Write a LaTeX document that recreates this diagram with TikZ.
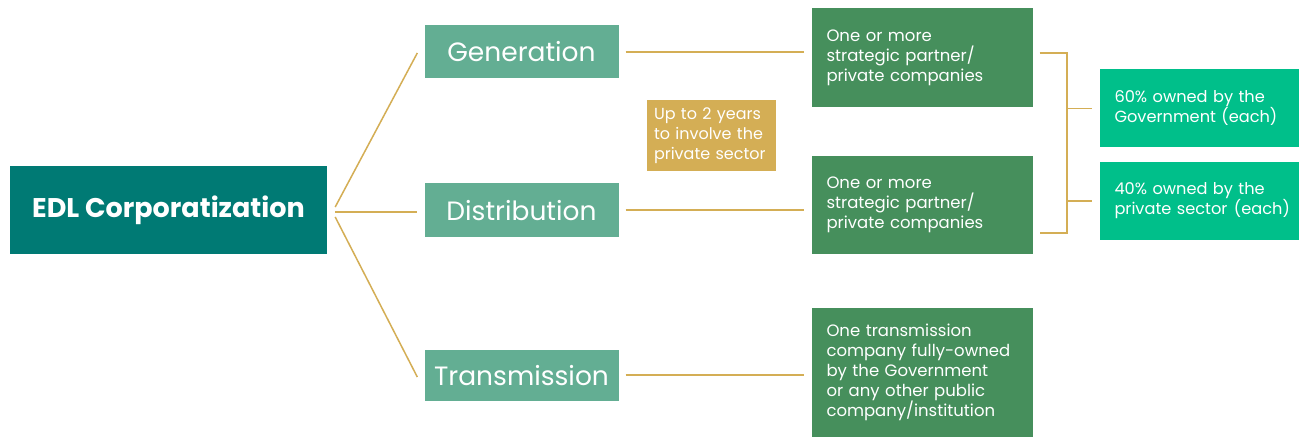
\documentclass[tikz,border=0pt]{standalone}
\usepackage{fontspec}
\setmainfont{Poppins}
\definecolor{edlteal}{HTML}{007A74}
\definecolor{segment}{HTML}{63AE93}
\definecolor{partner}{HTML}{468F5C}
\definecolor{share}{HTML}{00BF8A}
\definecolor{gold}{HTML}{D4AE55}

\begin{document}
\begin{tikzpicture}
  [x=1pt,y=-1pt,
   every node/.style={text=white,inner sep=0pt},
   box/.style={rectangle,fill=#1,align=center},
   txtbox/.style={rectangle,fill=#1,align=left,inner xsep=15pt,font=\fontsize{16.5}{20}\selectfont},
   link/.style={gold,line width=1.5pt}]
  \fill[white] (0,0) rectangle (1302,438);
  \useasboundingbox (0,0) rectangle (1302,438);

  \node[box=edlteal,minimum width=317pt,minimum height=88pt,font=\fontsize{27}{30}\selectfont\bfseries] (edl) at (168.5,210.5) {EDL Corporatization};

  \node[box=segment,minimum width=194pt,minimum height=53pt,font=\fontsize{26.5}{30}\selectfont] (gen) at (521.5,52) {Generation};
  \node[box=segment,minimum width=194pt,minimum height=54pt,font=\fontsize{26.5}{30}\selectfont] (dist) at (521.5,210.5) {Distribution};
  \node[box=segment,minimum width=194pt,minimum height=51pt,font=\fontsize{26.5}{30}\selectfont] (trans) at (521.5,375.5) {Transmission};

  \node[txtbox=gold,inner xsep=7pt,text width=115pt,minimum height=71pt,font=\fontsize{16}{20}\selectfont] (years) at (711.5,135.5) {Up to 2 years\\to involve the\\private sector};

  \node[txtbox=partner,text width=191pt,minimum height=99pt] (genco) at (922,58) {One or more\\strategic partner/\\private companies};
  \node[txtbox=partner,text width=191pt,minimum height=98pt] (distco) at (922,205) {One or more\\strategic partner/\\private companies};
  \node[txtbox=partner,text width=191pt,minimum height=129pt] (transco) at (922,372.5) {One transmission\\company fully-owned\\by the Government\\or any other public\\company/institution};

  \node[txtbox=share,inner xsep=10pt,text width=179pt,minimum height=78pt,font=\fontsize{16.2}{20}\selectfont] (gov) at (1199,108.5) {\hspace*{5pt}60\% owned by the\\\hspace*{5pt}\mbox{Government (each)}};
  \node[txtbox=share,inner xsep=10pt,text width=179pt,minimum height=78pt,font=\fontsize{16.2}{20}\selectfont] (priv) at (1199,201) {\hspace*{5pt}40\% owned by the\\\hspace*{5pt}\mbox{private sector\hspace{0.4em}(each)}};

  \draw[link] ([shift={(8,-3.5)}]edl.east) -- ([shift={(-7,1)}]gen.west);
  \draw[link] ([shift={(8,1.5)}]edl.east) -- ([shift={(-7,1.5)}]dist.west);
  \draw[link] ([shift={(8,6.5)}]edl.east) -- ([shift={(-7,1.5)}]trans.west);

  \draw[link,shorten <=7pt,shorten >=7pt] (gen.east) -- (gen.east -| genco.west);
  \draw[link,shorten <=7pt,shorten >=7pt] ([yshift=0.5pt]dist.east) -- ([yshift=0.5pt]dist.east -| distco.west);
  \draw[link,shorten <=7pt,shorten >=7pt] ([yshift=0.5pt]trans.east) -- ([yshift=0.5pt]trans.east -| transco.west);

  \coordinate (btop) at (1067,53);
  \coordinate (bbot) at (1067,233);
  \draw[link] ([shift={(7,-5)}]genco.east) -- (btop) -- (bbot) -- ([shift={(7,28)}]distco.east);
  \draw[link] (btop |- gov.west) -- ([xshift=-7pt]gov.west);
  \draw[link] (btop |- priv.west) -- ([xshift=-7pt]priv.west);
\end{tikzpicture}
\end{document}
